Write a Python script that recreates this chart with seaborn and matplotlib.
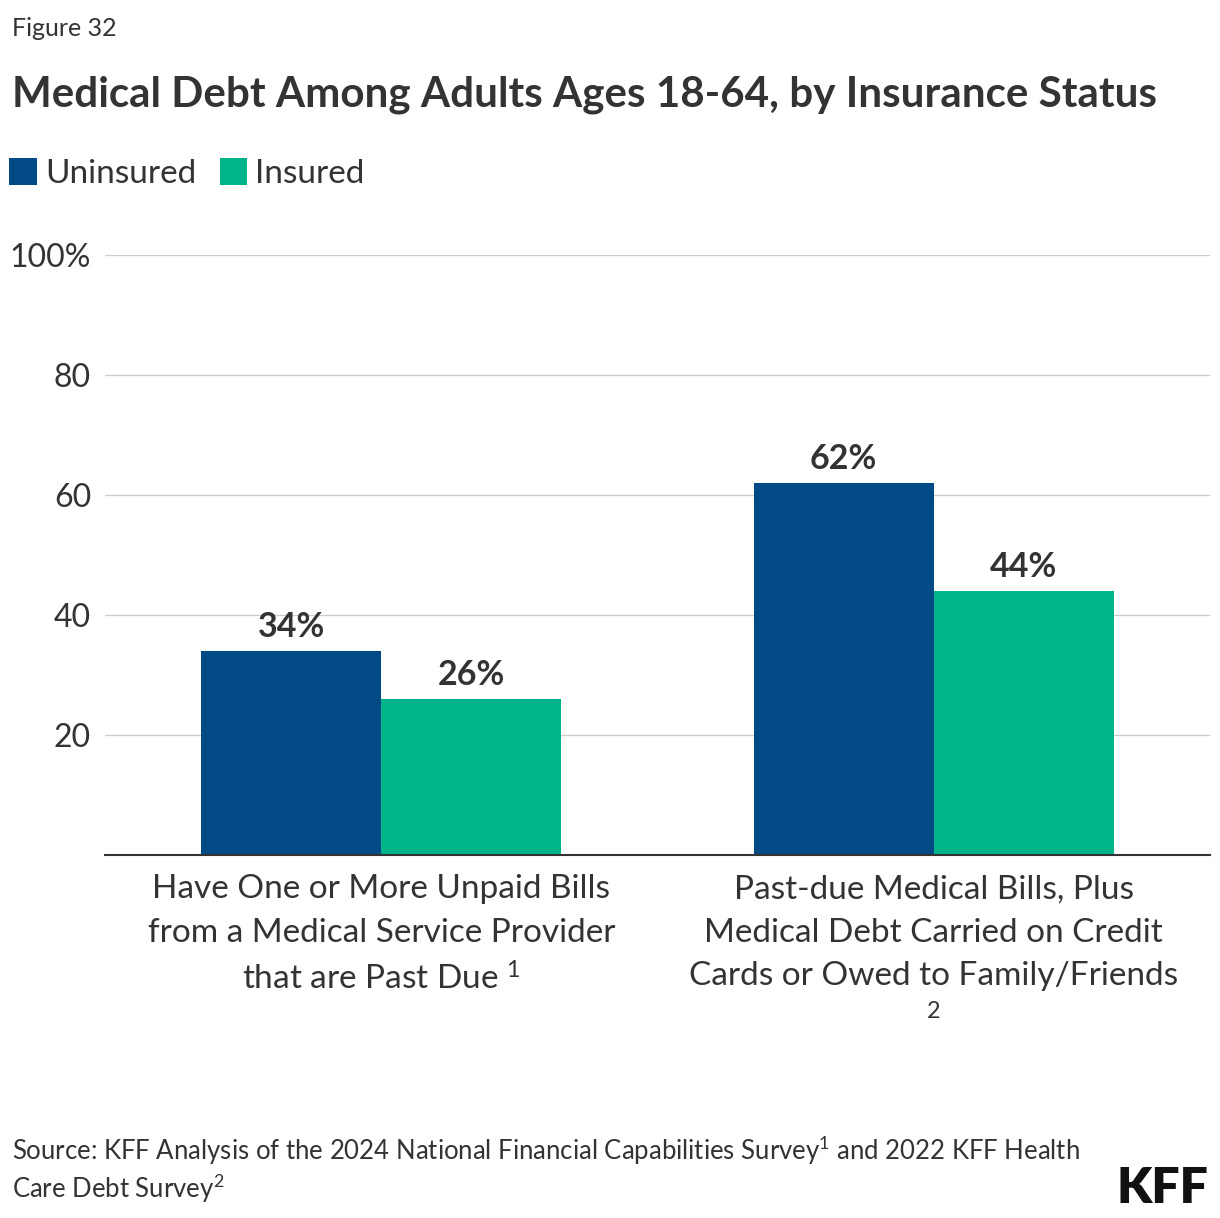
import matplotlib
matplotlib.use("Agg")
import matplotlib.pyplot as plt
import numpy as np
import pandas as pd
import seaborn as sns

# data
categories = [
    "Have One or More Unpaid Bills\nfrom a Medical Service Provider\nthat are Past Due $^{1}$",
    "Past-due Medical Bills, Plus\nMedical Debt Carried on Credit\nCards or Owed to Family/Friends\n$^{2}$",
]
groups = ["Uninsured", "Insured"]
uninsured = [34, 62]
insured = [26, 44]
y_ticks = [20, 40, 60, 80, 100]
y_tick_labels = ["20", "40", "60", "80", "100%"]

colors = ["#024a86", "#00b48a"]
text_col = "#333333"

sns.set_style("white")
plt.rcParams["font.family"] = ["Lato", "DejaVu Sans"]
plt.rcParams["mathtext.default"] = "regular"

df = pd.DataFrame({
    "cat": categories * 2,
    "group": [groups[0]] * len(categories) + [groups[1]] * len(categories),
    "value": uninsured + insured,
})

W, H = 1220, 1218
fig = plt.figure(figsize=(W / 100, H / 100), dpi=100)
ax = fig.add_axes([105 / W, 1 - 855 / H, 1105 / W, 600 / H])

sns.barplot(data=df, x="cat", y="value", hue="group", palette=colors,
            width=0.652, saturation=1, ax=ax, linewidth=0)

ax.set_ylim(0, 100)
ax.set_xlim(-0.5, 1.5)
ax.set_yticks(y_ticks)
ax.set_yticklabels(y_tick_labels)
ax.yaxis.grid(True, color="#cccccc", linewidth=0.9)
ax.set_axisbelow(True)
for s in ["top", "right", "left"]:
    ax.spines[s].set_visible(False)
ax.spines["bottom"].set_color(text_col)
ax.spines["bottom"].set_linewidth(1.5)
ax.tick_params(axis="y", length=0, pad=10, labelsize=23, labelcolor=text_col)
ax.tick_params(axis="x", length=0, pad=14, labelsize=24, labelcolor=text_col)
for lab in ax.get_xticklabels():
    lab.set_linespacing(1.55)
ax.set_xlabel("")
ax.set_ylabel("")

for cont in ax.containers:
    ax.bar_label(cont, fmt="%.0f%%", padding=6, fontsize=24.5,
                 fontweight="bold", color=text_col)

sns.move_legend(ax, loc="upper left", bbox_to_anchor=(-4 / W, 1 - 145 / H),
                bbox_transform=fig.transFigure, ncol=2, frameon=False,
                title=None, fontsize=24, handlelength=0.82, handleheight=0.85,
                handletextpad=0.25, columnspacing=0.7, borderaxespad=0,
                labelcolor=text_col)

fig.text(12 / W, 1 - 36 / H, "Figure 32", fontsize=18, color=text_col,
         va="baseline")
fig.text(12 / W, 1 - 106 / H, "Medical Debt Among Adults Ages 18-64, by Insurance Status",
         fontsize=30.3, fontweight="bold", color=text_col, va="baseline")
fig.text(12 / W, 1 - 1160 / H,
         "Source: KFF Analysis of the 2024 National Financial Capabilities Survey$^{1}$ and 2022 KFF Health",
         fontsize=18.5, color=text_col, va="baseline")
fig.text(12 / W, 1 - 1198 / H, "Care Debt Survey$^{2}$",
         fontsize=18.5, color=text_col, va="baseline")
fig.text(1208 / W, 1 - 1203 / H, "KFF", fontsize=36, fontweight="heavy",
         color="#111111", ha="right", va="baseline")

fig.savefig("out.png", dpi=100, facecolor="white")
